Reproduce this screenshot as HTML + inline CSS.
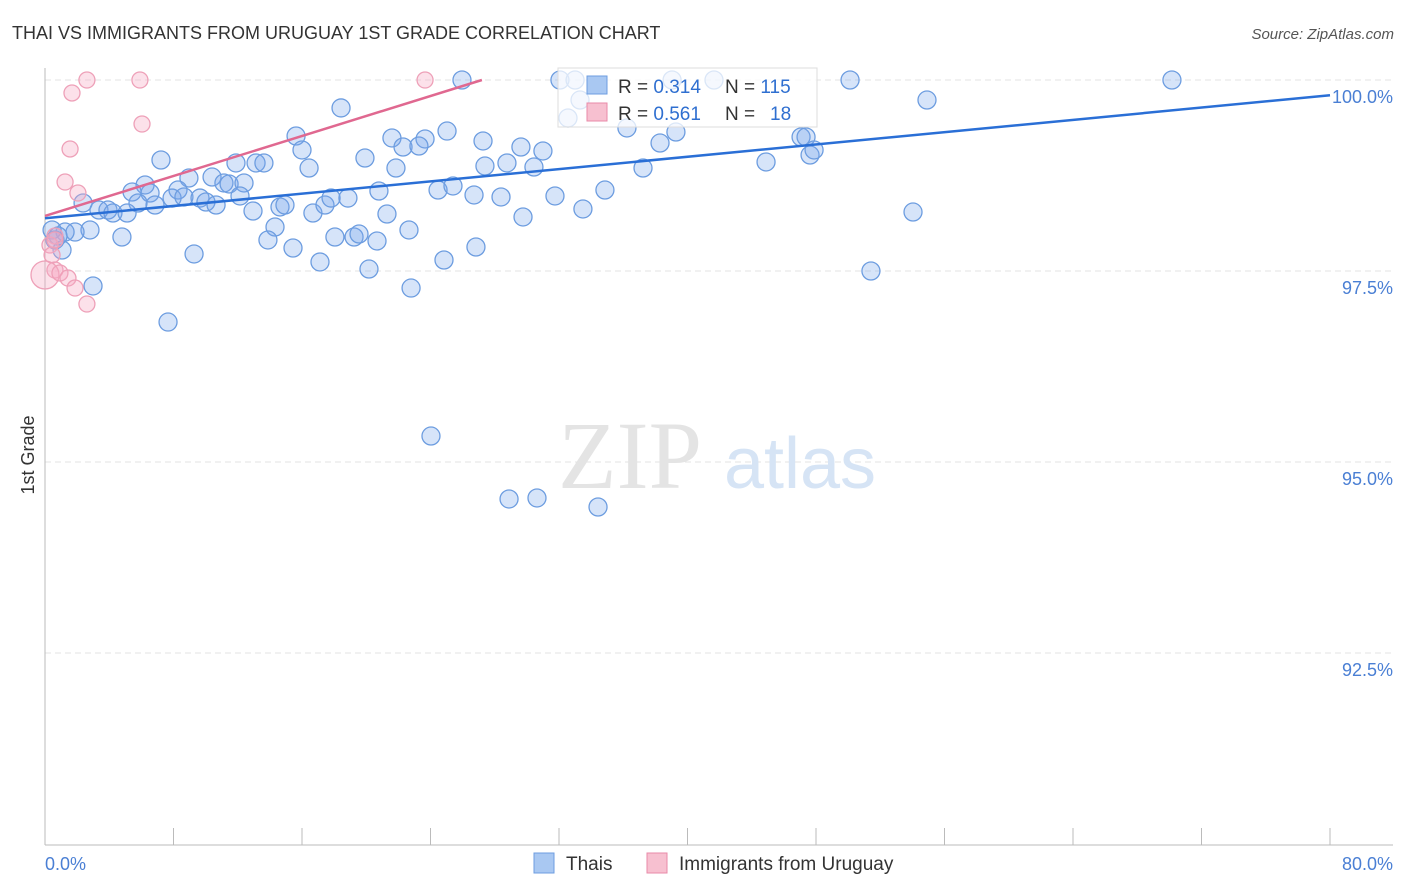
<!DOCTYPE html>
<html><head><meta charset="utf-8"><style>
body{margin:0;background:#fff;font-family:"Liberation Sans",sans-serif;}
svg{display:block}
</style></head><body>
<svg id="chart" width="1406" height="892" viewBox="0 0 1406 892" xmlns="http://www.w3.org/2000/svg">
<text x="12" y="39" font-size="18" fill="#333">THAI VS IMMIGRANTS FROM URUGUAY 1ST GRADE CORRELATION CHART</text>
<text x="1394" y="39" font-size="15" fill="#555" text-anchor="end" font-style="italic">Source: ZipAtlas.com</text>
<g id="grid"></g>
<text x="630" y="488" font-size="96" fill="#e4e4e4" font-family="Liberation Serif" text-anchor="middle">ZIP</text>
<text x="800" y="488" font-size="72" fill="#d6e4f5" text-anchor="middle">atlas</text>
<g id="marks"></g>
<g>
<rect x="558" y="68" width="259" height="59" fill="#fff" fill-opacity="0.75" stroke="#ddd"/>
<rect x="587" y="76" width="20" height="18" fill="#a9c8f2" stroke="#6d9de0"/>
<rect x="587" y="103" width="20" height="18" fill="#f7c0d0" stroke="#e88aa8"/>
<text x="618" y="93" font-size="19" fill="#333">R = <tspan fill="#2f6fd0">0.314</tspan></text>
<text x="725" y="93" font-size="19" fill="#333">N = <tspan fill="#2f6fd0">115</tspan></text>
<text x="618" y="120" font-size="19" fill="#333">R = <tspan fill="#2f6fd0">0.561</tspan></text>
<text x="725" y="120" font-size="19" fill="#333">N = </text>
<text x="770" y="120" font-size="19" fill="#2f6fd0">18</text>
</g>
<text transform="translate(34,455) rotate(-90)" font-size="18" fill="#333" text-anchor="middle">1st Grade</text>
<text x="45" y="870" font-size="18" fill="#4a7fd4">0.0%</text>
<text x="1393" y="870" font-size="18" fill="#4a7fd4" text-anchor="end">80.0%</text>
<g>
<rect x="534" y="853" width="20" height="20" fill="#a9c8f2" stroke="#6d9de0"/>
<text x="566" y="870" font-size="19" fill="#333">Thais</text>
<rect x="647" y="853" width="20" height="20" fill="#f7c0d0" stroke="#e88aa8"/>
<text x="679" y="870" font-size="19" fill="#333">Immigrants from Uruguay</text>
</g>
</svg>
<script>
const yTicks=[100,97.5,95,92.5];
const yTickLabels=["100.0%","97.5%","95.0%","92.5%"];
const xTicks=[0,8,16,24,32,40,48,56,64,72,80];
const thaiX=[462,560,575,672,714,850,1172,927,341,580,568,447,627,296,392,425,483,676,801,806,660,302,403,419,521,543,161,365,236,256,264,309,396,485,507,534,643,766,810,814,189,212,224,229,244,145,132,150,178,172,184,200,206,216,240,155,138,83,99,108,113,127,253,280,285,313,325,331,348,379,387,438,453,474,501,555,605,583,523,913,275,268,293,335,354,359,377,409,476,444,320,369,411,194,122,90,75,65,52,55,62,58,871,93,168,431,509,537,598].map(p=>+((p-45)*80/1285).toFixed(2));
const thaiY=[80,80,80,80,80,80,80,100,108,100,118,131,128,136,138,139,141,132,137,137,143,150,147,146,147,151,160,158,163,163,163,168,168,166,163,167,168,162,155,150,178,177,183,184,183,185,192,193,190,198,197,198,202,205,196,205,203,203,210,210,213,213,211,207,205,213,205,198,198,191,214,190,186,195,197,196,190,209,217,212,227,240,248,237,237,234,241,230,247,260,262,269,288,254,237,230,232,232,230,240,250,236,271,286,322,436,499,498,507].map(p=>+(100-(p-80)/76.4).toFixed(3));
const uruX=[87,140,425,72,142,70,65,78,55,50,52,55,45,60,68,75,87,55].map(p=>+((p-45)*80/1285).toFixed(2));
const uruY=[80,80,80,93,124,149,182,193,236,245,255,270,275,273,278,288,304,240].map(p=>+(100-(p-80)/76.4).toFixed(3));
const thaiLine=[[0,98.19],[80,99.8]];
const uruLine=[[0,98.22],[27.2,100]];
const X=v=>45+v*1285/80, Y=v=>80+(100-v)*76.4;
const NS="http://www.w3.org/2000/svg";
function mk(t,a,p){const e=document.createElementNS(NS,t);for(const k in a)e.setAttribute(k,a[k]);p.appendChild(e);return e;}
const g=document.getElementById('grid'),m=document.getElementById('marks');
yTicks.forEach((t,i)=>{const l=mk('line',{x1:45,x2:1393,y1:Y(t),y2:Y(t),stroke:'#e3e3e3','stroke-dasharray':'6,4'},g);


const tx=mk('text',{x:1393,y:Y(t)+23,'font-size':18,fill:'#4a7fd4','text-anchor':'end'},g);tx.textContent=yTickLabels[i];

});
const ax=mk('line',{x1:45,x2:45,y1:68,y2:845,stroke:'#bbb'},g);


const bx=mk('line',{x1:45,x2:1393,y1:845,y2:845,stroke:'#bbb'},g);


xTicks.forEach(t=>{const l=mk('line',{x1:X(t),x2:X(t),y1:828,y2:845,stroke:'#bbb'},g);

});
thaiX.forEach((v,i)=>{const c=mk('circle',{cx:X(v),cy:Y(thaiY[i]),r:9,fill:'rgba(120,165,235,0.3)',stroke:'#6d9de0','stroke-width':1.3},m);

});
uruX.forEach((v,i)=>{const c=mk('circle',{cx:X(v),cy:Y(uruY[i]),r:i==12?14:8,fill:'rgba(245,170,195,0.35)',stroke:'#eea0b8','stroke-width':1.3},m);

});
const l1=mk('line',{x1:X(thaiLine[0][0]),y1:Y(thaiLine[0][1]),x2:X(thaiLine[1][0]),y2:Y(thaiLine[1][1]),stroke:'#2a6fd6','stroke-width':2.5},m);


const l2=mk('line',{x1:X(uruLine[0][0]),y1:Y(uruLine[0][1]),x2:X(uruLine[1][0]),y2:Y(uruLine[1][1]),stroke:'#e06890','stroke-width':2.5},m);


</script>
</body></html>
